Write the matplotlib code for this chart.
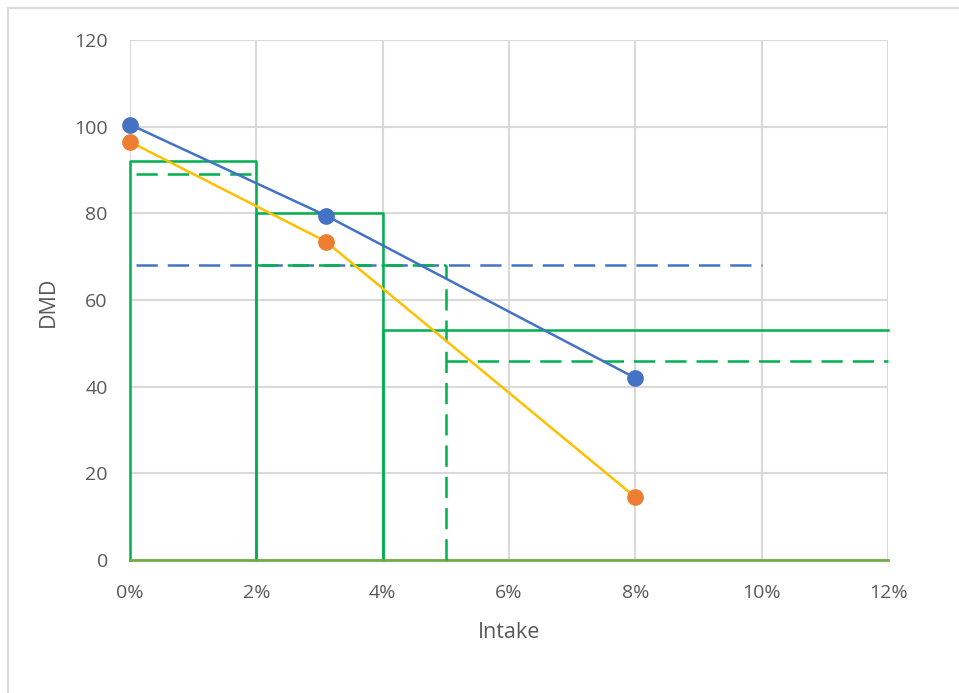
import matplotlib
matplotlib.use("Agg")
import matplotlib.pyplot as plt
from matplotlib.ticker import FuncFormatter, MultipleLocator
from matplotlib.lines import Line2D

plt.rcParams['font.family'] = ['Open Sans', 'DejaVu Sans']

# Data
intake = [0.0, 0.031, 0.08]
dmd_blue = [100.5, 79.5, 42.0]
dmd_orange = [96.5, 73.5, 14.5]

# Solid green boxes (left x, right x, top)
step_left = [0.0, 0.02, 0.04]
step_right = [0.02, 0.04, 0.12]
step_top = [92, 80, 53]

# Dashed green steps
dstep_left = [0.001, 0.02, 0.05]
dstep_right = [0.02, 0.05, 0.12]
dstep_top = [89, 68, 46]
dstep_vert_x = [0.05]
dstep_vert_top = [68]

# Blue dashed reference
blue_ref_x = [0.001, 0.10]
blue_ref_y = 68

BLUE = '#4472C4'
ORANGE = '#ED7D31'
GOLD = '#FFC000'
GREEN = '#00B050'
AXGREEN = '#70AD47'
GRID = '#D9D9D9'
TXT = '#595959'

fig = plt.figure(figsize=(9.59, 6.93), dpi=100)
ax = fig.add_axes([130/959, 1-560/693, (888-130)/959, (560-40)/693])

# border
fig.add_artist(Line2D([8/959, 8/959], [0, 1-8/693], transform=fig.transFigure, color=GRID, lw=1.5))
fig.add_artist(Line2D([8/959, 1], [1-8/693, 1-8/693], transform=fig.transFigure, color=GRID, lw=1.5))

ax.set_xlim(0, 0.12)
ax.set_ylim(0, 120)
ax.xaxis.set_major_locator(MultipleLocator(0.02))
ax.yaxis.set_major_locator(MultipleLocator(20))
ax.xaxis.set_major_formatter(FuncFormatter(lambda v, p: f"{round(v*100):d}%"))
ax.grid(True, color=GRID, lw=1.5)
ax.set_axisbelow(True)
for s in ['top', 'right', 'left']:
    ax.spines[s].set_visible(False)
ax.spines['bottom'].set_color(AXGREEN)
ax.spines['bottom'].set_linewidth(2)
ax.tick_params(length=0, labelsize=14, colors=TXT)
ax.tick_params(axis='x', pad=17)
ax.tick_params(axis='y', pad=16)
ax.set_xlabel('Intake', fontsize=15.5, color=TXT)
ax.set_ylabel('DMD', fontsize=15.5, color=TXT)
ax.xaxis.label.set_va('center')
ax.yaxis.label.set_va('center')
ax.xaxis.set_label_coords(0.5, (560-632)/520)
ax.yaxis.set_label_coords((48-130)/758, 0.496)

dash = (8.5, 4)
# solid green boxes
for l, r, t in zip(step_left, step_right, step_top):
    xs, ys = [l, l, r], [0, t, t]
    if r < 0.12:
        xs.append(r); ys.append(0)
    ax.plot(xs, ys, color=GREEN, lw=1.8, clip_on=False, zorder=2)
# dashed green
for l, r, t in zip(dstep_left, dstep_right, dstep_top):
    ax.plot([l, r], [t, t], color=GREEN, lw=1.8, dashes=dash, clip_on=False, zorder=3)
for x, t in zip(dstep_vert_x, dstep_vert_top):
    ax.plot([x, x], [0, t], color=GREEN, lw=1.8, dashes=dash, clip_on=False, zorder=3)
# blue dashed
ax.plot(blue_ref_x, [blue_ref_y, blue_ref_y], color=BLUE, lw=1.8, dashes=dash, zorder=2.5)

ax.plot(intake, dmd_blue, color=BLUE, lw=1.8, marker='o', ms=11, mfc=BLUE, mec=BLUE, clip_on=False, zorder=5)
ax.plot(intake, dmd_orange, color=GOLD, lw=1.8, marker='o', ms=11, mfc=ORANGE, mec=ORANGE, clip_on=False, zorder=4)

fig.savefig('out.png', dpi=100)
